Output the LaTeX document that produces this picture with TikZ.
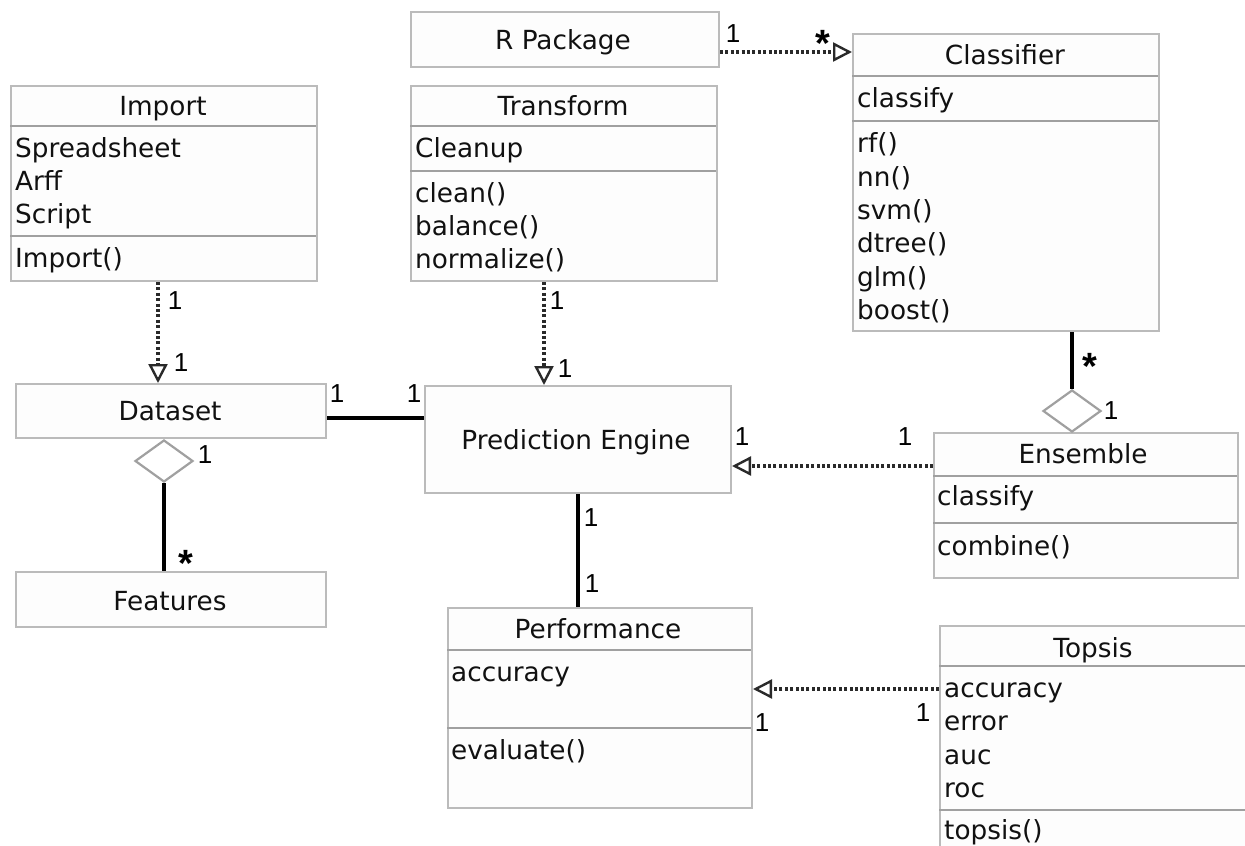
\documentclass[tikz,border=0pt]{standalone}
\usepackage{fontspec}
\setmainfont{DejaVu Sans}
\newfontfamily\lblfont{Liberation Sans}
\usetikzlibrary{arrows.meta,shapes.geometric}

\definecolor{boxgray}{HTML}{BBBBBB}
\definecolor{sepgray}{HTML}{A0A0A0}
\definecolor{boxfill}{HTML}{FDFDFD}
\definecolor{textcol}{HTML}{111111}
\definecolor{dotcol}{HTML}{2A2A2A}

\tikzset{
  box/.style={draw=boxgray, line width=2pt, fill=boxfill, anchor=north west,
              inner sep=0pt, minimum width=306pt},
  sepline/.style={draw=sepgray, line width=1.6pt},
  txt/.style={font=\fontsize{26.3}{30}\selectfont, text=textcol, inner sep=0pt},
  ttl/.style={txt, anchor=base},
  attr/.style={txt, anchor=base west},
  mult/.style={font=\lblfont\fontsize{26}{28}\selectfont, inner sep=0pt, anchor=base},
  many/.style={font=\lblfont\bfseries\fontsize{38}{38}\selectfont, inner sep=0pt, anchor=base},
  dep/.style={draw=dotcol, line width=3.6pt, dash pattern=on 3pt off 2.4pt,
              -{Triangle[open, length=19pt, width=19pt, line width=2.4pt]}},
  assoc/.style={draw=black, line width=4.5pt},
  agg/.style={shape=diamond, draw=sepgray, line width=2.2pt, fill=white,
              minimum width=58pt, minimum height=42pt, inner sep=0pt},
}

\begin{document}
\begin{tikzpicture}[x=1pt, y=-1pt]
\clip (0,0) rectangle (1245,846);
\fill[white] (0,0) rectangle (1245,846);

% ---------- class boxes ----------
\node[box, minimum width=308pt, minimum height=55pt] (rpkg) at (410,11) {};
\node[ttl] (rpkg-t) at (563,49) {R Package};

\node[box, minimum height=195pt] (import) at (10,85) {};
\draw[sepline] (10,126) -- (316,126);
\draw[sepline] (10,236) -- (316,236);
\node[ttl]  (import-t)  at (163,115) {Import};
\node[attr] (import-a1) at (15,157) {Spreadsheet};
\node[attr] (import-a2) at (15,190) {Arff};
\node[attr] (import-a3) at (15,223) {Script};
\node[attr] (import-m1) at (15,267) {Import()};

\node[box, minimum height=195pt] (transform) at (410,85) {};
\draw[sepline] (410,126) -- (716,126);
\draw[sepline] (410,171) -- (716,171);
\node[ttl]  (transform-t)  at (563,115) {Transform};
\node[attr] (transform-a1) at (415,157) {Cleanup};
\node[attr] (transform-m1) at (415,202) {clean()};
\node[attr] (transform-m2) at (415,235) {balance()};
\node[attr] (transform-m3) at (415,268) {normalize()};

\node[box, minimum height=297pt] (classifier) at (852,33) {};
\draw[sepline] (852,76) -- (1158,76);
\draw[sepline] (852,121) -- (1158,121);
\node[ttl]  (classifier-t)  at (1005,64) {Classifier};
\node[attr] (classifier-a1) at (857,107) {classify};
\node[attr] (classifier-m1) at (857,152) {rf()};
\node[attr] (classifier-m2) at (857,186) {nn()};
\node[attr] (classifier-m3) at (857,219) {svm()};
\node[attr] (classifier-m4) at (857,252) {dtree()};
\node[attr] (classifier-m5) at (857,286) {glm()};
\node[attr] (classifier-m6) at (857,319) {boost()};

\node[box, minimum width=310pt, minimum height=54pt] (dataset) at (15,383) {};
\node[ttl] (dataset-t) at (170,420) {Dataset};

\node[box, minimum width=310pt, minimum height=55pt] (features) at (15,571) {};
\node[ttl] (features-t) at (170,610) {Features};

\node[box, minimum height=107pt] (pe) at (424,385) {};
\node[ttl] (pe-t) at (576,449) {Prediction Engine};

\node[box, minimum width=304pt, minimum height=145pt] (ensemble) at (933,432) {};
\draw[sepline] (933,476) -- (1237,476);
\draw[sepline] (933,523) -- (1237,523);
\node[ttl]  (ensemble-t)  at (1083,463) {Ensemble};
\node[attr] (ensemble-a1) at (937,505) {classify};
\node[attr] (ensemble-m1) at (937,555) {combine()};

\node[box, minimum width=304pt, minimum height=200pt] (perf) at (447,607) {};
\draw[sepline] (447,650) -- (751,650);
\draw[sepline] (447,728) -- (751,728);
\node[ttl]  (perf-t)  at (598,638) {Performance};
\node[attr] (perf-a1) at (451,681) {accuracy};
\node[attr] (perf-m1) at (451,759) {evaluate()};

\node[box, minimum width=322pt, minimum height=260pt] (topsis) at (939,625) {};
\draw[sepline] (939,666) -- (1261,666);
\draw[sepline] (939,810) -- (1261,810);
\node[ttl]  (topsis-t)  at (1093,657) {Topsis};
\node[attr] (topsis-a1) at (944,697) {accuracy};
\node[attr] (topsis-a2) at (944,730) {error};
\node[attr] (topsis-a3) at (944,764) {auc};
\node[attr] (topsis-a4) at (944,797) {roc};
\node[attr] (topsis-m1) at (944,839) {topsis()};

% ---------- aggregation diamonds ----------
\node[agg] (ddia) at (164,461) {};
\node[agg] (cdia) at (1072,411) {};

% ---------- connectors ----------
\draw[dep] ([yshift=-19pt]classifier.north west -| rpkg.east) -- ([yshift=-19pt]classifier.north west);
\draw[dep] ([xshift=-6pt]import.south) -- ([xshift=-6pt]import.south |- dataset.north);
\draw[dep] ([xshift=-20pt]transform.south) -- ([xshift=-20pt]transform.south |- pe.north);
\draw[assoc] ([yshift=-7pt]dataset.east) -- ([yshift=-7pt]dataset.east -| pe.west);
\draw[assoc] (ddia.south) -- (ddia.south |- features.north);
\draw[assoc] (cdia.north) -- (cdia.north |- classifier.south);
\draw[dep] ([yshift=-34pt]ensemble.north west) -- ([yshift=-34pt]ensemble.north west -| pe.east);
\draw[assoc] (pe.south) -- (pe.south |- perf.north);
\draw[dep] ([yshift=-64pt]topsis.north west) -- ([yshift=-64pt]topsis.north west -| perf.east);

% ---------- multiplicities ----------
\node[mult] (m-rp)  at (733,42)  {1};
\node[many] (m-cl)  at (823,56)  {*};
\node[mult] (m-im)  at (175,309) {1};
\node[mult] (m-ds)  at (181,371) {1};
\node[mult] (m-tr)  at (557,309) {1};
\node[mult] (m-pe1) at (565,377) {1};
\node[mult] (m-ds2) at (337,402) {1};
\node[mult] (m-pe2) at (414,402) {1};
\node[mult] (m-ds3) at (205,463) {1};
\node[many] (m-ft)  at (186,576) {*};
\node[many] (m-cl2) at (1090,379) {*};
\node[mult] (m-en)  at (1111,419) {1};
\node[mult] (m-pe3) at (742,445) {1};
\node[mult] (m-en2) at (905,445) {1};
\node[mult] (m-pe4) at (591,526) {1};
\node[mult] (m-pf)  at (592,592) {1};
\node[mult] (m-pf2) at (762,731) {1};
\node[mult] (m-tp)  at (923,721) {1};
\end{tikzpicture}
\end{document}
